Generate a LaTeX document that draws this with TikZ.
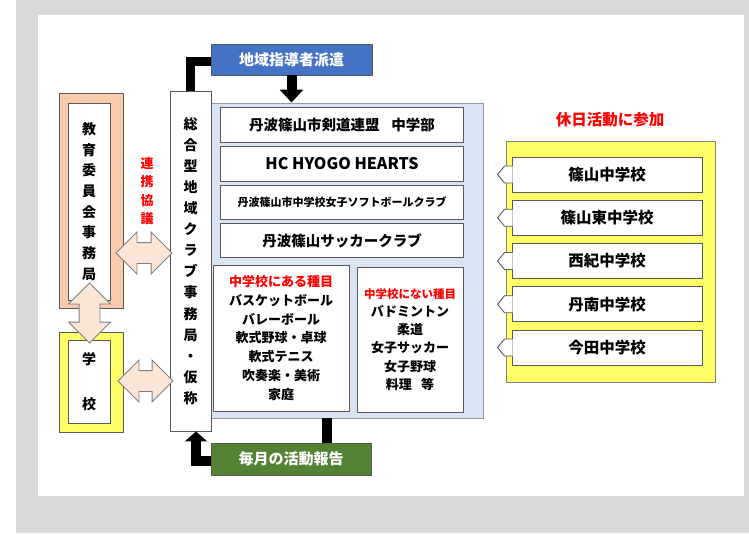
\documentclass[tikz,border=0pt]{standalone}
\usepackage{fontspec}
\setmainfont{Noto Sans CJK JP}
\usetikzlibrary{positioning,arrows.meta,shapes.arrows}

\definecolor{bggray}{HTML}{D9D9D9}
\definecolor{dispblue}{HTML}{4472C4}
\definecolor{repgreen}{HTML}{548235}
\definecolor{eduorange}{HTML}{F8CBAD}
\definecolor{schyellow}{HTML}{FFFF66}
\definecolor{peach}{HTML}{FBE5D6}
\definecolor{panelblue}{HTML}{DAE3F3}
\definecolor{edgegray}{HTML}{595959}

\tikzset{
  box/.style={draw=edgegray, fill=white, line width=0.9pt, inner sep=0pt, font=\bfseries},
  frame/.style={draw=edgegray, line width=0.9pt, inner sep=0pt},
  bar/.style={line width=9pt, black},
  fatarrow/.style={double arrow, draw=gray, fill=peach, line width=0.8pt,
    inner xsep=0pt, inner ysep=10pt, double arrow head extend=10.5pt,
    double arrow tip angle=90},
  jp/.style={font=\bfseries\fontsize{#1}{#1}\selectfont},
}

\begin{document}
\begin{tikzpicture}[x=1pt,y=-1pt]
  \useasboundingbox (0,0) rectangle (749,533);
  \fill[bggray] (16,0) rectangle (749,533);
  \fill[white] (38,15) rectangle (744,496);

  % centre: club office and its member clubs
  \node[frame, fill=panelblue, draw=gray!80, minimum width=272, minimum height=315] (panel) at (347,260.5) {};
  \node[box, minimum width=41, minimum height=340, align=center,
    font=\bfseries\fontsize{14}{21.1}\selectfont] (club) at (190.5,261)
    {総\\合\\型\\地\\域\\ク\\ラ\\ブ\\事\\務\\局\\・\\仮\\称};

  \node[box, minimum width=243, minimum height=35, jp=14.5] (kendo) at (342,124.5) {丹波篠山市剣道連盟\hspace{0.8em}中学部};
  \node[box, minimum width=243, minimum height=35, jp=16, below=3.4pt of kendo] (hc) {HC HYOGO HEARTS};
  \node[box, minimum width=243, minimum height=34, jp=11, below=3.4pt of hc] (soft) {丹波篠山市中学校女子ソフトボールクラブ};
  \node[box, minimum width=243, minimum height=34, jp=14.5, below=3.4pt of soft] (soccer) {丹波篠山サッカークラブ};

  \node[box, minimum width=136, minimum height=146, align=center,
    font=\bfseries\fontsize{13}{18.7}\selectfont] (inbox) at (281,338)
    {\textcolor{red}{中学校にある種目}\\バスケットボール\\バレーボール\\軟式野球・卓球\\軟式テニス\\吹奏楽・美術\\家庭};
  \node[box, minimum width=106, minimum height=145, align=center,
    font=\bfseries\fontsize{13}{18.3}\selectfont] (outbox) at (410,339.5)
    {\textcolor{red}{\fontsize{11.5}{18.3}\selectfont 中学校にない種目}\\バドミントン\\柔道\\女子サッカー\\女子野球\\料理\hspace{0.7em}等};

  % dispatch and report
  \node[box, fill=dispblue, minimum width=161, minimum height=31, text=white, jp=15] (dispatch) at (291.5,59.5) {地域指導者派遣};
  \node[box, fill=repgreen, minimum width=160, minimum height=32, text=white, jp=15] (report) at (291,459) {毎月の活動報告};

  \draw[bar] ([yshift=-2pt]dispatch.west) -| (club.north);
  \draw[bar, line width=10pt, -{Triangle[width=23pt,length=13pt]}] (dispatch.south) -- (dispatch.south |- panel.north);
  \draw[bar, line width=10pt] ([xshift=36pt]report.north) -- ([xshift=36pt]report.north |- panel.south);
  \draw[bar, line width=10pt, -{Triangle[width=22pt,length=10pt]}] ([yshift=-2pt]report.west) -| ([xshift=5.5pt]club.south);

  % left: board of education and schools
  \node[frame, fill=eduorange, minimum width=64, minimum height=215] (eduframe) at (91,200.5) {};
  \node[box, minimum width=42, minimum height=197, align=center,
    font=\bfseries\fontsize{14}{20.7}\selectfont] (edu) at (89,201.5)
    {教\\育\\委\\員\\会\\事\\務\\局};
  \node[frame, fill=schyellow, minimum width=64, minimum height=100] (schframe) at (91,382) {};
  \node[box, minimum width=42, minimum height=83, align=center,
    font=\bfseries\fontsize{14}{45}\selectfont] (school) at (89,381.5) {学\\校};

  \node[fatarrow, minimum height=56] (educlub) at (144,253) {};
  \node[fatarrow, minimum height=60, rotate=90] (eduschool) at (89.5,313) {};
  \node[fatarrow, minimum height=55] (schoolclub) at (145.5,381) {};
  \node[text=red, align=center, font=\bfseries\fontsize{13}{18.3}\selectfont] (talk) at (147,191) {連\\携\\協\\議};

  % right: junior high schools
  \node[text=red, jp=15.5] (holiday) at (610,120) {休日活動に参加};
  \node[frame, fill=schyellow, draw=gray, minimum width=209, minimum height=241] (jhs) at (610.5,261.5) {};
  \node[box, minimum width=190, minimum height=35, jp=15.5] (s1) at (607,174.5) {篠山中学校};
  \node[box, minimum width=190, minimum height=35, jp=15.5, below=7.35pt of s1] (s2) {篠山東中学校};
  \node[box, minimum width=190, minimum height=35, jp=15.5, below=7.35pt of s2] (s3) {西紀中学校};
  \node[box, minimum width=190, minimum height=35, jp=15.5, below=7.35pt of s3] (s4) {丹南中学校};
  \node[box, minimum width=190, minimum height=35, jp=15.5, below=7.35pt of s4] (s5) {今田中学校};
  \foreach \s in {s1,s2,s3,s4,s5}
    \filldraw[draw=edgegray, fill=white, line width=0.9pt]
      ([xshift=1pt,yshift=8.5pt]\s.west) -- ++(-8,0) -- ++(-7,8.5) -- ++(7,8.5) -- ++(8,0);
\end{tikzpicture}
\end{document}
